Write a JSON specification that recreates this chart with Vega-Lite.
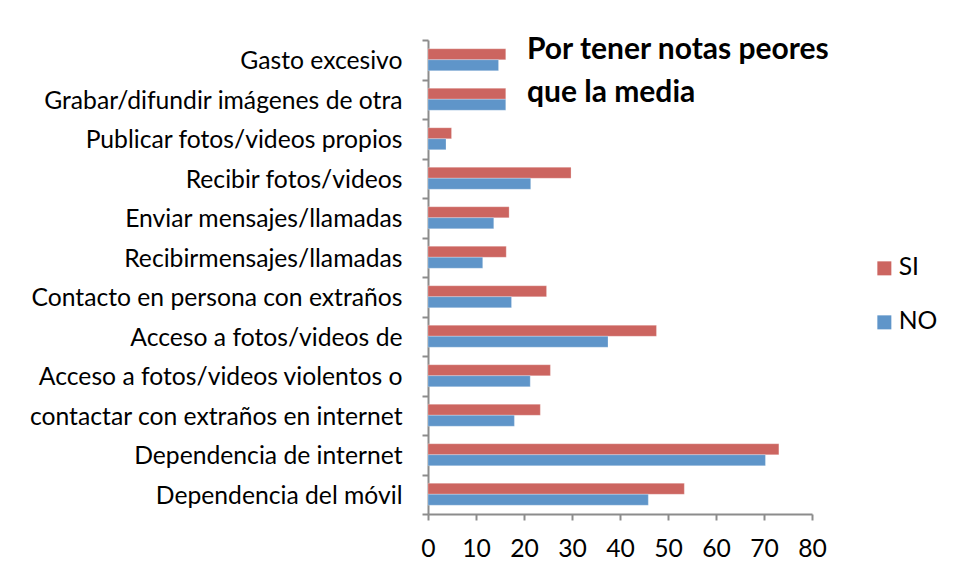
{
  "$schema": "https://vega.github.io/schema/vega-lite/v6.json",
  "autosize": {"type": "none"},
  "padding": {"left": 428, "top": 40, "right": 144, "bottom": 65},
  "width": 384,
  "height": 474,
  "background": "white",
  "title": {
    "text": ["Por tener notas peores", "que la media"],
    "anchor": "start",
    "frame": "group",
    "orient": "top",
    "dx": 99,
    "offset": -105,
    "baseline": "alphabetic",
    "lineHeight": 43,
    "font": "Lato",
    "fontSize": 30,
    "fontWeight": "bold",
    "color": "black"
  },
  "data": {
    "values": [
      {"cat": "Gasto excesivo", "grupo": "SI", "valor": 16.2},
      {"cat": "Gasto excesivo", "grupo": "NO", "valor": 14.7},
      {"cat": "Grabar/difundir imágenes de  otra", "grupo": "SI", "valor": 16.2},
      {"cat": "Grabar/difundir imágenes de  otra", "grupo": "NO", "valor": 16.2},
      {"cat": "Publicar fotos/videos propios", "grupo": "SI", "valor": 4.9},
      {"cat": "Publicar fotos/videos propios", "grupo": "NO", "valor": 3.75},
      {"cat": "Recibir fotos/videos", "grupo": "SI", "valor": 29.8},
      {"cat": "Recibir fotos/videos", "grupo": "NO", "valor": 21.4},
      {"cat": "Enviar mensajes/llamadas", "grupo": "SI", "valor": 16.9},
      {"cat": "Enviar mensajes/llamadas", "grupo": "NO", "valor": 13.7},
      {"cat": "Recibirmensajes/llamadas", "grupo": "SI", "valor": 16.3},
      {"cat": "Recibirmensajes/llamadas", "grupo": "NO", "valor": 11.4},
      {"cat": "Contacto en persona con extraños", "grupo": "SI", "valor": 24.7},
      {"cat": "Contacto en persona con extraños", "grupo": "NO", "valor": 17.4},
      {"cat": "Acceso a fotos/videos de", "grupo": "SI", "valor": 47.6},
      {"cat": "Acceso a fotos/videos de", "grupo": "NO", "valor": 37.5},
      {"cat": "Acceso a fotos/videos violentos o", "grupo": "SI", "valor": 25.5},
      {"cat": "Acceso a fotos/videos violentos o", "grupo": "NO", "valor": 21.3},
      {"cat": "contactar con extraños en internet", "grupo": "SI", "valor": 23.4},
      {"cat": "contactar con extraños en internet", "grupo": "NO", "valor": 18.0},
      {"cat": "Dependencia de internet", "grupo": "SI", "valor": 73.1},
      {"cat": "Dependencia de internet", "grupo": "NO", "valor": 70.3},
      {"cat": "Dependencia del móvil", "grupo": "SI", "valor": 53.4},
      {"cat": "Dependencia del móvil", "grupo": "NO", "valor": 45.9}
    ]
  },
  "mark": {"type": "bar", "stroke": "white", "strokeOpacity": 0.5, "strokeWidth": 0.5},
  "encoding": {
    "y": {
      "field": "cat",
      "type": "nominal",
      "sort": null,
      "scale": {"paddingInner": 0, "paddingOuter": 0},
      "axis": {
        "title": null,
        "tickBand": "extent",
        "tickSize": 6,
        "labelPadding": 20,
        "labelFont": "Lato",
        "labelFontSize": 24.7,
        "labelColor": "black",
        "labelLimit": 500,
        "labelOffset": 2,
        "domainColor": "#8c8c8c",
        "domainWidth": 2,
        "tickColor": "#8c8c8c",
        "tickWidth": 2
      }
    },
    "yOffset": {"field": "grupo", "type": "nominal", "sort": ["SI", "NO"], "scale": {"domain": ["SI", "NO"], "paddingInner": 0, "paddingOuter": 0.8}},
    "x": {
      "field": "valor",
      "type": "quantitative",
      "scale": {"domain": [0, 80], "nice": false},
      "axis": {
        "title": null,
        "values": [0, 10, 20, 30, 40, 50, 60, 70, 80],
        "grid": false,
        "tickSize": 6,
        "labelPadding": 16,
        "labelFlush": false,
        "labelOverlap": false,
        "labelFont": "Lato",
        "labelFontSize": 24.7,
        "labelColor": "black",
        "domainColor": "#8c8c8c",
        "domainWidth": 2,
        "tickColor": "#8c8c8c",
        "tickWidth": 2
      }
    },
    "color": {
      "field": "grupo",
      "type": "nominal",
      "scale": {"domain": ["SI", "NO"], "range": ["#CC6560", "#5F95C9"]},
      "legend": {
        "title": null,
        "orient": "none",
        "legendX": 444,
        "legendY": 216,
        "symbolType": "square",
        "symbolSize": 196,
        "symbolStrokeWidth": 0,
        "rowPadding": 28,
        "labelFont": "Lato",
        "labelFontSize": 24.7,
        "labelColor": "black",
        "labelOffset": 2
      }
    }
  },
  "config": {"view": {"stroke": null}}
}
